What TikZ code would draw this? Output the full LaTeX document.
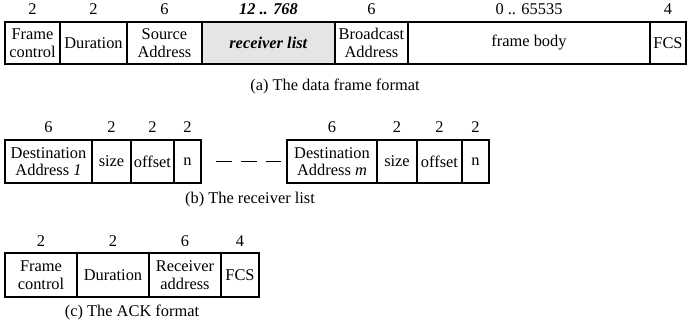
\documentclass[tikz,border=0pt]{standalone}
\usepackage{fontspec}
\setmainfont{Liberation Serif}
\begin{document}
\begin{tikzpicture}[x=1pt,y=-1pt,
  every node/.style={font=\fontsize{16.4}{17.5}\selectfont},
  field/.style={draw, line width=1.8pt, inner sep=0pt, align=center, anchor=center},
  rowa/.style={field, minimum height=42pt},
  rowb/.style={field, minimum height=43pt},
  rowc/.style={field, minimum height=44pt},
  num/.style={inner sep=0pt, anchor=center},
  caption/.style={inner sep=0pt, anchor=center},
  gap/.style={line width=1.8pt, dash pattern=on 16pt off 9pt}]
\useasboundingbox (0,0) rectangle (688,328);

% (a) data frame
\node[rowa, minimum width=55pt]  (a1) at (32.5,43) {Frame\\control};
\node[rowa, minimum width=67pt]  (a2) at (93.5,43) {Duration};
\node[rowa, minimum width=75pt]  (a3) at (164.5,43) {Source\\Address};
\node[rowa, minimum width=133pt, fill=gray!20] (a4) at (268.5,43) {\textbf{\textit{receiver list}}};
\node[rowa, minimum width=73pt]  (a5) at (371.5,43) {Broadcast\\Address};
\node[rowa, minimum width=242pt] (a6) at (529,43) {frame body};
\node[rowa, minimum width=36pt]  (a7) at (668,43) {FCS};
\node[num] (na1) at ([yshift=12pt]a1.north) {2};
\node[num] (na2) at ([yshift=12pt]a2.north) {2};
\node[num] (na3) at ([yshift=12pt]a3.north) {6};
\node[num] (na4) at ([yshift=12pt]a4.north) {\textbf{\textit{12 .. 768}}};
\node[num] (na5) at ([yshift=12pt]a5.north) {6};
\node[num] (na6) at ([yshift=12pt]a6.north) {0 .. 65535};
\node[num] (na7) at ([yshift=12pt]a7.north) {4};
\node[caption] (capa) at (335,86) {(a) The data frame format};

% (b) receiver list
\node[rowb, minimum width=87pt] (b1) at (48.5,161.5) {Destination\\Address \textit{1}};
\node[rowb, minimum width=39pt] (b2) at (111.5,161.5) {size};
\node[rowb, minimum width=43pt] (b3) at (152.5,161.5) {offset};
\node[rowb, minimum width=27pt] (b4) at (187.5,161.5) {n};
\node[rowb, minimum width=90pt] (b5) at (332,161.5) {Destination\\Address \textit{m}};
\node[rowb, minimum width=40pt] (b6) at (397,161.5) {size};
\node[rowb, minimum width=45pt] (b7) at (439.5,161.5) {offset};
\node[rowb, minimum width=27pt] (b8) at (475.5,161.5) {n};
\foreach \n/\v in {b1/6,b2/2,b3/2,b4/2,b5/6,b6/2,b7/2,b8/2}
  \node[num] (n\n) at ([yshift=12pt]\n.north) {\v};
\draw[gap] ([xshift=14pt]b4.east) -- ([xshift=-5pt]b5.west);
\node[caption] (capb) at (250,200) {(b) The receiver list};

% (c) ACK frame
\node[rowc, minimum width=72pt] (c1) at (41,275) {Frame\\control};
\node[rowc, minimum width=72pt] (c2) at (113,275) {Duration};
\node[rowc, minimum width=72pt] (c3) at (185,275) {Receiver\\address};
\node[rowc, minimum width=38pt] (c4) at (240,275) {FCS};
\foreach \n/\v in {c1/2,c2/2,c3/6,c4/4}
  \node[num] (n\n) at ([yshift=11pt]\n.north) {\v};
\node[caption] (capc) at (132,312) {(c) The ACK format};
\end{tikzpicture}
\end{document}
